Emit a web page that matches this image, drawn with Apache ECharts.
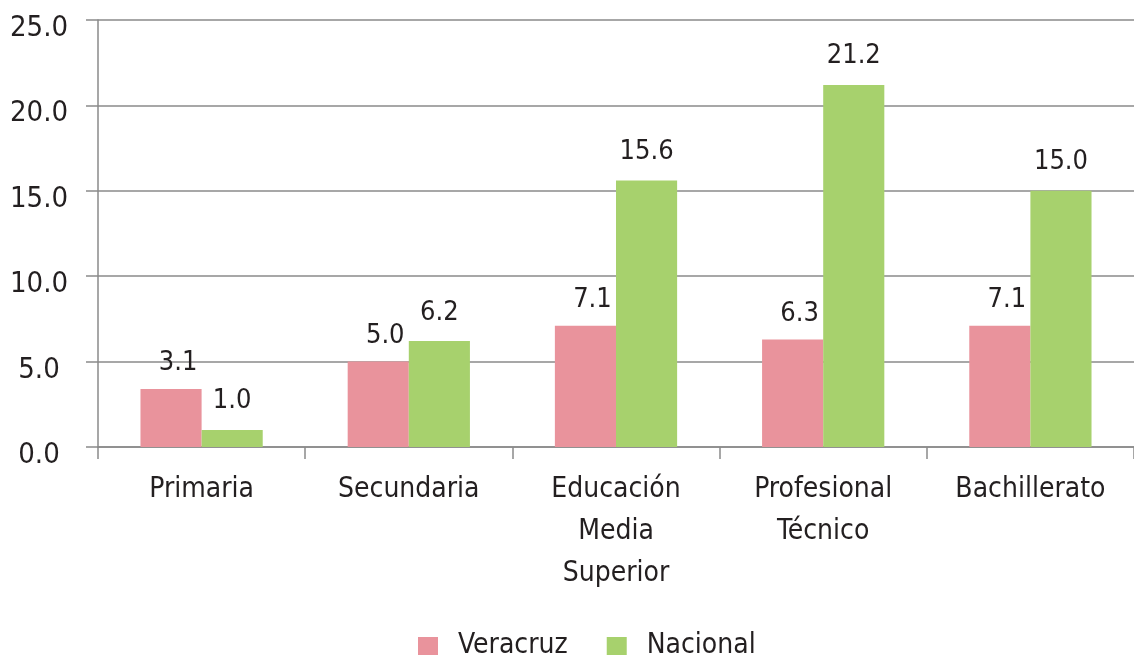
<!DOCTYPE html>
<html><head><meta charset="utf-8">
<script src="https://cdn.jsdelivr.net/npm/echarts@6/dist/echarts.min.js"></script>
<style>html,body{margin:0;padding:0;background:#fff}#c{width:1134px;height:665px}</style>
</head><body><div id="c"></div>
<script>
const categories = ['Primaria', 'Secundaria', 'Educación\nMedia\nSuperior', 'Profesional\nTécnico', 'Bachillerato'];
const seriesNames = ['Veracruz', 'Nacional'];
const veracruz = [3.4, 5.0, 7.1, 6.3, 7.1];
const veracruzLabels = ['3.1', '5.0', '7.1', '6.3', '7.1'];
const nacional = [1.0, 6.2, 15.6, 21.2, 15.0];
const nacionalLabels = ['1.0', '6.2', '15.6', '21.2', '15.0'];
const yTicks = [0, 5, 10, 15, 20, 25];

const FONT = '"DejaVu Sans Condensed", "DejaVu Sans", sans-serif';
const TXT = '#231f20';
const chart = echarts.init(document.getElementById('c'));
chart.setOption({
  animation: false,
  textStyle: { fontFamily: FONT },
  grid: { left: 98, right: -9, top: 20, bottom: 218, containLabel: false },
  legend: {
    data: seriesNames, left: 413, top: 627, icon: 'rect', itemWidth: 20, itemHeight: 18, itemGap: 39,
    textStyle: { fontFamily: FONT, fontSize: 28, color: TXT, padding: [0, 0, 0, 15] }
  },
  xAxis: {
    type: 'category', data: categories,
    axisLine: { lineStyle: { color: '#8a8a8a', width: 1.5 } },
    axisTick: { show: true, length: 12, lineStyle: { color: '#8a8a8a', width: 1.5 } },
    axisLabel: { fontFamily: FONT, fontSize: 28, color: TXT, margin: 22, lineHeight: 42, interval: 0 }
  },
  yAxis: {
    type: 'value', min: 0, max: 25, interval: 5,
    axisLine: { show: true, lineStyle: { color: '#8a8a8a', width: 1.5 } },
    axisTick: { show: true, length: 12, lineStyle: { color: '#8a8a8a', width: 1.5 } },
    splitLine: { lineStyle: { color: '#8a8a8a', width: 1.5 } },
    axisLabel: { fontFamily: FONT, fontSize: 29, color: TXT, margin: 59, align: 'center',
      verticalAlign: 'top', lineHeight: 17,
      formatter: v => yTicks.includes(v) ? v.toFixed(1) : '' }
  },
  series: [
    { name: seriesNames[0], type: 'bar', data: veracruz, barGap: '0%', barCategoryGap: '41%',
      itemStyle: { color: '#e9939c' },
      label: { show: true, position: 'top', distance: 12, offset: [7, 0], fontFamily: FONT, fontSize: 27, color: TXT,
        formatter: p => veracruzLabels[p.dataIndex] } },
    { name: seriesNames[1], type: 'bar', data: nacional, barGap: '0%', barCategoryGap: '41%',
      itemStyle: { color: '#a7d16d' },
      label: { show: true, position: 'top', distance: 15, fontFamily: FONT, fontSize: 27, color: TXT,
        formatter: p => nacionalLabels[p.dataIndex] } }
  ]
});
</script></body></html>
